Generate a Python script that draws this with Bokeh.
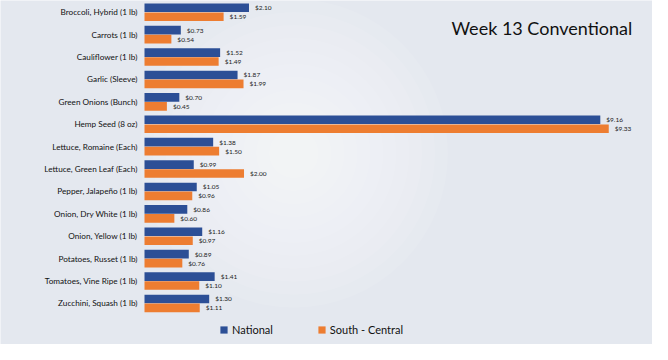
from bokeh.plotting import figure
from bokeh.models import Range1d, Legend, Label, ColumnDataSource
from bokeh.core.properties import value
from bokeh.embed import file_html
from bokeh.resources import INLINE

categories = [
    "Broccoli, Hybrid (1 lb)", "Carrots (1 lb)", "Cauliflower (1 lb)", "Garlic (Sleeve)",
    "Green Onions (Bunch)", "Hemp Seed (8 oz)", "Lettuce, Romaine (Each)",
    "Lettuce, Green Leaf (Each)", "Pepper, Jalapeño (1 lb)", "Onion, Dry White (1 lb)",
    "Onion, Yellow (1 lb)", "Potatoes, Russet (1 lb)", "Tomatoes, Vine Ripe (1 lb)",
    "Zucchini, Squash (1 lb)",
]
national = [2.10, 0.73, 1.52, 1.87, 0.70, 9.16, 1.38, 0.99, 1.05, 0.86, 1.16, 0.89, 1.41, 1.30]
south_central = [1.59, 0.54, 1.49, 1.99, 0.45, 9.33, 1.50, 2.00, 0.96, 0.60, 0.97, 0.76, 1.10, 1.11]
series_names = ["National", "South - Central"]
title_text = "Week 13 Conventional"

BLUE = "#2c4f96"
ORANGE = "#ed7d31"
BG = "#e4e8ef"
FONT = "Lato"

W, H = 652, 344
zero_px = 144
px_per_unit_x = 49.76
x_start = -zero_px / px_per_unit_x
x_end = (W - zero_px) / px_per_unit_x
row_px = 22.4
first_px = 11.75
y_top = -first_px / row_px
y_bottom = (H - first_px) / row_px

p = figure(width=W, height=H, output_backend="svg", toolbar_location=None,
           x_range=Range1d(x_start, x_end), y_range=Range1d(y_bottom, y_top),
           min_border_left=0, min_border_right=0,
           min_border_top=0, min_border_bottom=0)
p.background_fill_color = BG
p.border_fill_color = BG
p.outline_line_color = None
p.grid.visible = False
p.axis.visible = False

# soft radial glow in the background
for k in range(11):
    p.circle(x=3.0, y=6.3, radius=3.1 - k * 0.26, fill_color="white",
             fill_alpha=0.085, line_color=None)

idx = list(range(len(categories)))
off = 0.2
src = ColumnDataSource(dict(
    y=idx, cat=categories, base=[0] * len(idx),
    y_n=[i - off for i in idx], y_s=[i + off for i in idx],
    nat=national, sc=south_central,
    nat_lbl=["$%.2f" % v for v in national],
    sc_lbl=["$%.2f" % v for v in south_central],
))

r1 = p.hbar(y="y_n", right="nat", left=0, height=0.385, source=src,
            fill_color=BLUE, line_color=None)
r2 = p.hbar(y="y_s", right="sc", left=0, height=0.385, source=src,
            fill_color=ORANGE, line_color=None)

p.text(x="nat", y="y_n", text="nat_lbl", source=src, x_offset=6,
       text_baseline="middle", text_font=value(FONT), text_font_size="6.5px",
       text_color="#222222")
p.text(x="sc", y="y_s", text="sc_lbl", source=src, x_offset=6,
       text_baseline="middle", text_font=value(FONT), text_font_size="6.5px",
       text_color="#222222")

# category labels
p.text(x="base", y="y", text="cat", source=src, x_offset=-7,
       text_align="right", text_baseline="middle", text_font=value(FONT),
       text_font_size="8.2px", text_color="#111111")

legend = Legend(items=[(series_names[0], [r1]), (series_names[1], [r2])],
                orientation="horizontal", location=(219, 8),
                glyph_width=9, glyph_height=9, label_standoff=4, spacing=44,
                padding=0, margin=0, background_fill_alpha=0, border_line_alpha=0,
                label_text_font=FONT, label_text_font_size="11px",
                label_text_color="#111111")
p.add_layout(legend)

p.add_layout(Label(x=451, y=317, x_units="screen", y_units="screen", text=title_text,
                   text_font=FONT, text_font_size="18px", text_color="#111111",
                   text_baseline="alphabetic"))

open("out.html", "w").write(file_html(p, INLINE))
